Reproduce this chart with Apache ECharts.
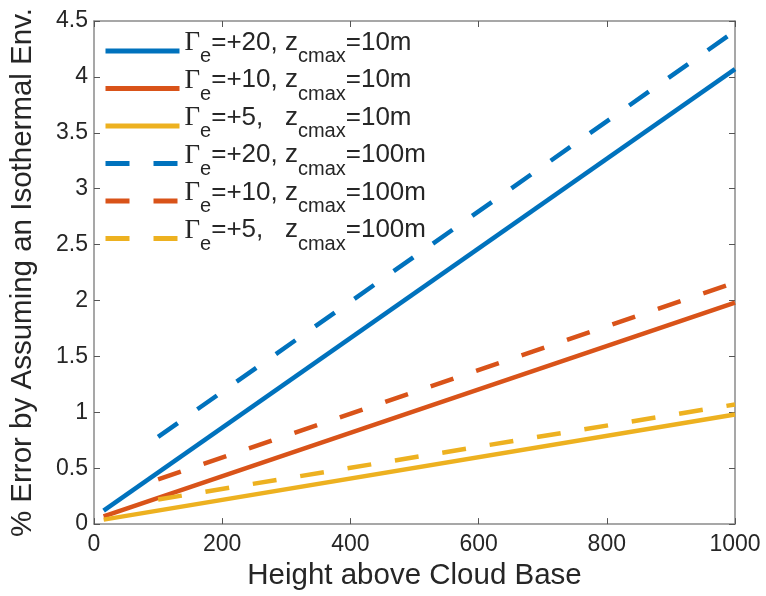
<!DOCTYPE html>
<html>
<head>
<meta charset="utf-8">
<script src="https://cdn.jsdelivr.net/npm/echarts@6/dist/echarts.min.js"></script>
<style>
  html, body { margin: 0; padding: 0; background: #fff; }
  #chart { width: 766px; height: 596px; }
</style>
</head>
<body>
<div id="chart"></div>
<script>
// heights (x) where each run starts / ends
const heightSolid = [15, 1000]
const heightDashed = [100, 1000]

// % error values
const solid20 = [0.12, 4.07]
const solid10 = [0.07, 1.98]
const solid5 = [0.04, 0.98]
const dashed20 = [0.78, 4.41]
const dashed10 = [0.40, 2.16]
const dashed5 = [0.22, 1.07]

const xTicks = [0, 200, 400, 600, 800, 1000]
const yTicks = [0, 0.5, 1, 1.5, 2, 2.5, 3, 3.5, 4, 4.5]

const names = [
  'Γe=+20, zcmax=10m',
  'Γe=+10, zcmax=10m',
  'Γe=+5,   zcmax=10m',
  'Γe=+20, zcmax=100m',
  'Γe=+10, zcmax=100m',
  'Γe=+5,   zcmax=100m'
]
// legend text with subscripts
const richNames = [
  '{g|Γ}{s|e}{t|=+20, z}{s|cmax}{t|=10m}',
  '{g|Γ}{s|e}{t|=+10, z}{s|cmax}{t|=10m}',
  '{g|Γ}{s|e}{t|=+5,   z}{s|cmax}{t|=10m}',
  '{g|Γ}{s|e}{t|=+20, z}{s|cmax}{t|=100m}',
  '{g|Γ}{s|e}{t|=+10, z}{s|cmax}{t|=100m}',
  '{g|Γ}{s|e}{t|=+5,   z}{s|cmax}{t|=100m}'
]

const colors = ['#0072BD', '#D95319', '#EDB120']
const axisColor = '#8a8a8a'
const textColor = '#262626'
const font = 'Liberation Sans, Arial, Helvetica, sans-serif'

function pairs(xs, ys) {
  return xs.map((x, i) => [x, ys[i]])
}

function makeSeries(name, xs, ys, color, dashed) {
  return {
    name: name,
    type: 'line',
    symbol: 'none',
    xAxisIndex: 0,
    yAxisIndex: 0,
    clip: false,
    lineStyle: {
      color: color,
      width: 4.5,
      type: dashed ? [24, 24] : 'solid'
    },
    itemStyle: {color: color},
    data: pairs(xs, ys)
  }
}

const chart = echarts.init(document.getElementById('chart'))

const boxAxis = {
  min: 0,
  axisLine: {show: true, onZero: false, lineStyle: {color: axisColor, width: 1.5}},
  axisTick: {show: true, inside: true, length: 6, lineStyle: {color: '#555', width: 1}},
  splitLine: {show: false},
  axisLabel: {show: false}
}

chart.setOption({
  animation: false,
  grid: {left: 91, right: 31, top: 21, bottom: 64},
  legend: {
    orient: 'vertical',
    left: 103,
    top: 29.5,
    padding: 0,
    itemGap: -5.5,
    itemWidth: 74,
    itemHeight: 14,
    data: names,
    itemStyle: {opacity: 0},
    lineStyle: {width: 5},
    formatter: function (name) {
      return richNames[names.indexOf(name)]
    },
    textStyle: {
      color: textColor,
      rich: {
        g: {fontFamily: 'Liberation Serif, Times New Roman, serif', fontSize: 27, lineHeight: 27, verticalAlign: 'top', color: textColor},
        t: {fontFamily: font, fontSize: 26, lineHeight: 26, verticalAlign: 'top', color: textColor},
        s: {fontFamily: font, fontSize: 20, lineHeight: 43, verticalAlign: 'bottom', padding: [0, 0, 6, 0], color: textColor}
      }
    }
  },
  xAxis: [
    Object.assign({}, boxAxis, {
      type: 'value',
      position: 'bottom',
      max: 1000,
      interval: 200,
      name: 'Height above Cloud Base',
      nameLocation: 'middle',
      nameGap: 29,
      nameTextStyle: {fontFamily: font, fontSize: 29.5, color: textColor},
      axisLabel: {
        show: true,
        margin: 9,
        fontFamily: font,
        fontSize: 23,
        color: textColor,
        formatter: v => xTicks.includes(v) ? String(v) : ''
      }
    }),
    Object.assign({}, boxAxis, {
      type: 'value',
      position: 'top',
      max: 1000,
      interval: 200
    })
  ],
  yAxis: [
    Object.assign({}, boxAxis, {
      type: 'value',
      position: 'left',
      max: 4.5,
      interval: 0.5,
      name: '% Error by Assuming an Isothermal Env.',
      nameLocation: 'middle',
      nameGap: 56,
      nameTextStyle: {fontFamily: font, fontSize: 29.5, color: textColor},
      axisLabel: {
        show: true,
        margin: 6,
        fontFamily: font,
        fontSize: 23,
        color: textColor,
        formatter: v => yTicks.includes(v) ? String(v) : ''
      }
    }),
    Object.assign({}, boxAxis, {
      type: 'value',
      position: 'right',
      max: 4.5,
      interval: 0.5
    })
  ],
  series: [
    makeSeries(names[0], heightSolid, solid20, colors[0], false),
    makeSeries(names[1], heightSolid, solid10, colors[1], false),
    makeSeries(names[2], heightSolid, solid5, colors[2], false),
    makeSeries(names[3], heightDashed, dashed20, colors[0], true),
    makeSeries(names[4], heightDashed, dashed10, colors[1], true),
    makeSeries(names[5], heightDashed, dashed5, colors[2], true)
  ]
})
</script>
</body>
</html>
